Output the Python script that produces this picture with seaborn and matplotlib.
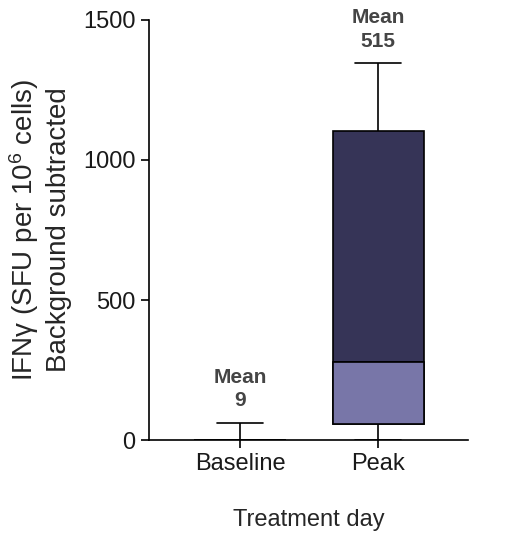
import numpy as np
import pandas as pd
import seaborn as sns
import matplotlib.pyplot as plt

# five-number summaries
categories = ["Baseline", "Peak"]
mins = [0, 0]
q1 = [0, 56]
medians = [0, 279]
q3 = [0, 1104]
maxs = [62, 1346]
means = [9, 515]

dark = "#363457"
light = "#7876a8"

# five points per group -> seaborn quartiles land on q1/median/q3 exactly
rows = []
for i, cat in enumerate(categories):
    for v in [mins[i], q1[i], medians[i], q3[i], maxs[i]]:
        rows.append({"day": cat, "value": v})
df = pd.DataFrame(rows)

sns.set_style("ticks")
plt.rcParams["font.family"] = ["Liberation Sans", "DejaVu Sans"]
plt.rcParams["mathtext.fontset"] = "custom"
plt.rcParams["mathtext.rm"] = "Liberation Sans"
plt.rcParams["mathtext.it"] = "Liberation Sans:italic"

fig = plt.figure(figsize=(5.15, 5.38), dpi=100)
ax = fig.add_axes([0.289, 0.182, 0.62, 0.781])

box_w = 0.66
sns.boxplot(data=df, x="day", y="value", order=categories, whis=(0, 100),
            width=box_w, color=dark, saturation=1, linecolor="black",
            linewidth=1.2, showfliers=False, ax=ax)

# lighter lower half of the box (q1 -> median)
for i in range(len(categories)):
    if medians[i] > q1[i]:
        ax.bar(i, medians[i] - q1[i], bottom=q1[i], width=box_w, color=light,
               edgecolor="black", linewidth=1.2, zorder=3)

for i in range(len(categories)):
    ax.annotate(f"Mean\n{means[i]}", xy=(i, maxs[i]), xytext=(0, 9),
                textcoords="offset points", ha="center", va="bottom",
                fontsize=15, fontweight="bold", color="#454545",
                linespacing=1.3)

ax.set_ylim(0, 1500)
ax.set_xlim(-0.66, 1.65)
ax.set_yticks([0, 500, 1000, 1500])
ax.set_ylabel("IFN\u03b3 (SFU per 10$^6$ cells)\nBackground subtracted",
              fontsize=20, labelpad=8, linespacing=1.25)
ax.set_xlabel("Treatment day", fontsize=17, labelpad=24)
ax.tick_params(axis="both", labelsize=17, length=6, width=1.2, colors="black")
ax.tick_params(axis="both", labelcolor="#1a1a1a")
for s in ["left", "bottom"]:
    ax.spines[s].set_linewidth(1.2)
    ax.spines[s].set_color("black")
sns.despine(ax=ax)

fig.savefig("out.png", dpi=100)
